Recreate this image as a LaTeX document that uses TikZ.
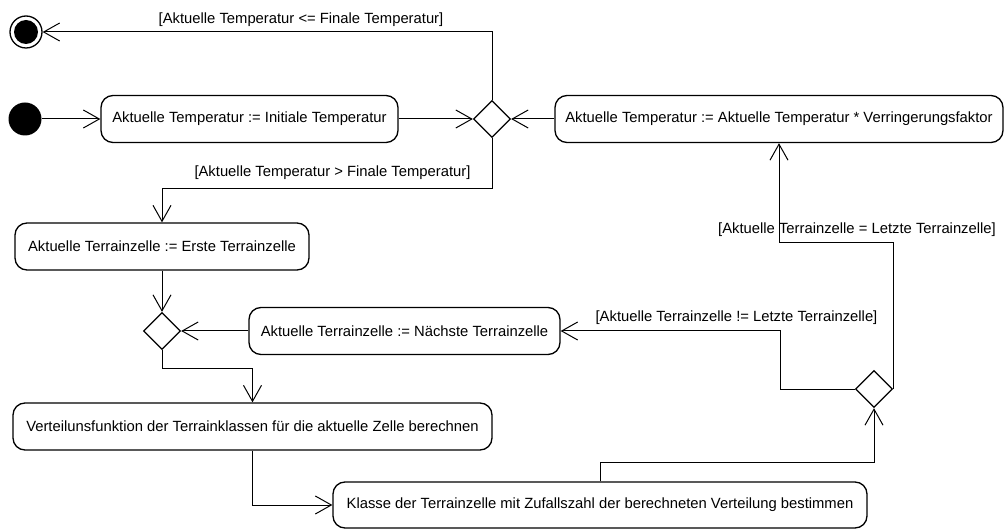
\documentclass[tikz,border=0pt]{standalone}
\usepackage{fontspec}
\setmainfont{Liberation Sans}
\usetikzlibrary{shapes.geometric,arrows.meta}

\begin{document}
\begin{tikzpicture}[x=1pt,y=-1pt,>={Straight Barb[length=16pt,width=18pt]},
    font=\fontsize{14.8}{17}\selectfont,line width=1pt,
    action/.style={draw,line width=1.3pt,rounded corners=12pt,minimum height=47pt,inner xsep=8pt},
    choice/.style={draw,diamond,line width=1.3pt,minimum width=37pt,minimum height=37pt,inner sep=0pt},
    startdot/.style={circle,fill=black,minimum size=33pt,inner sep=0pt},
    enddot/.style={circle,draw,line width=1.3pt,minimum size=32pt,inner sep=0pt,
        path picture={\fill (path picture bounding box.center) circle (12pt);}},
    guard/.style={inner sep=0pt}]
    \useasboundingbox (0,0) rectangle (1004,529);

    \node[enddot] (stop) at (26,32) {};
    \node[startdot] (start) at (25,119) {};
    \node[action,minimum width=297pt] (initTemp) at (249.5,119) {Aktuelle Temperatur := Initiale Temperatur};
    \node[choice] (tempCheck) at (492,119) {};
    \node[action,minimum width=448pt] (cool) at (779,119) {Aktuelle Temperatur := Aktuelle Temperatur * Verringerungsfaktor};
    \node[action,minimum width=294pt] (firstCell) at (162,246.5) {Aktuelle Terrainzelle := Erste Terrainzelle};
    \node[choice] (cellMerge) at (162,331) {};
    \node[action,minimum width=311pt] (nextCell) at (404.5,331) {Aktuelle Terrainzelle := Nächste Terrainzelle};
    \node[action,minimum width=479pt] (distrib) at (252.5,426.5) {Verteilunsfunktion der Terrainklassen für die aktuelle Zelle berechnen};
    \node[action,minimum width=534pt,minimum height=46pt] (classify) at (600,505) {Klasse der Terrainzelle mit Zufallszahl der berechneten Verteilung bestimmen};
    \node[choice] (cellCheck) at (874,389) {};

    \node[guard] (guardEnd) at (301,20) {[Aktuelle Temperatur <= Finale Temperatur]};
    \node[guard] (guardLoop) at (332.5,173) {[Aktuelle Temperatur > Finale Temperatur]};
    \node[guard] (guardNext) at (736.5,318) {[Aktuelle Terrainzelle != Letzte Terrainzelle]};
    \node[guard] (guardLast) at (857,230) {[Aktuelle Terrainzelle = Letzte Terrainzelle]};

    \path[->]
    (start) edge (initTemp)
    (initTemp) edge (tempCheck)
    (cool) edge (tempCheck)
    (firstCell) edge (cellMerge)
    (nextCell) edge (cellMerge);

    \draw[->] (tempCheck.north) |- (stop);
    \draw[->] (tempCheck.south) -- ++(0,50) -| (firstCell.north);
    \draw[->] (cellMerge.south) -- ++(0,18) -| (distrib.north);
    \draw[->] (distrib.south) |- (classify.west);
    \draw[->] (classify.north) -- ++(0,-19) -| (cellCheck.south);
    \draw[->] (cellCheck.west) -- ++(-74,0) |- (nextCell.east);
    \draw[->] (cellCheck.east) -- ++(0,-146) -| (cool.south);
\end{tikzpicture}
\end{document}
